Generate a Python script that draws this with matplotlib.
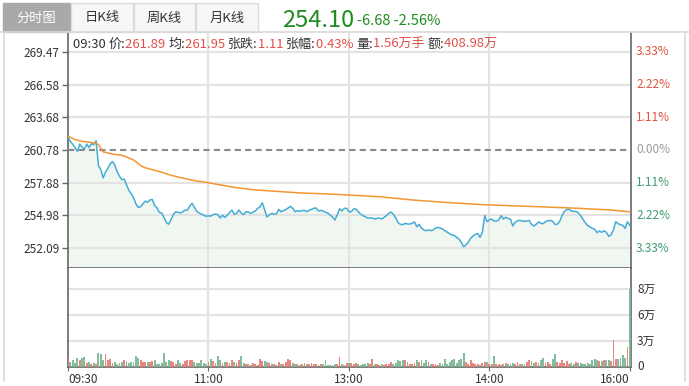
import matplotlib
matplotlib.use('Agg')
import matplotlib.pyplot as plt
from matplotlib.patches import Rectangle
from matplotlib.lines import Line2D

plt.rcParams['font.family'] = ['Noto Sans CJK SC', 'DejaVu Sans']

# ---------------- data ----------------
prev_close = 260.78
last_price = 254.10
change = -6.68
change_pct = -2.56

price_ticks = [252.09, 254.98, 257.88, 260.78, 263.68, 266.58, 269.47]
pct_labels = ['3.33%', '2.22%', '1.11%', '0.00%', '1.11%', '2.22%', '3.33%']
time_ticks = [0, 60, 120, 180, 240]
time_labels = ['09:30', '11:00', '13:00', '14:00', '16:00']
vol_ticks = [0, 2.8, 5.6, 8.4]
vol_labels = ['0', '3万', '6万', '8万']
tabs = ['分时图', '日K线', '周K线', '月K线']
info_time = '09:30'
info_names = ['价:', '均:', '张跌:', '张幅:', '量:', '额:']
info_values = ['261.89', '261.95', '1.11', '0.43%', '1.56万手', '408.98万']

prices = [
    261.95, 261.55, 261.30, 261.00, 260.65, 261.30, 261.05, 260.85, 261.30, 261.00,
    261.35, 261.25, 261.60, 259.40, 259.05, 258.30, 258.80, 259.15, 259.55, 259.75,
    259.45, 258.85, 258.45, 258.15, 258.20, 257.70, 257.20, 256.90, 256.55, 256.00,
    255.70, 255.75, 256.00, 256.25, 256.15, 256.35, 256.40, 255.85, 255.65, 255.25,
    255.20, 254.80, 254.35, 254.20, 254.60, 255.05, 255.30, 255.25, 255.20, 255.30,
    255.45, 255.45, 255.80, 256.05, 255.70, 255.35, 255.20, 255.10, 255.00, 254.90,
    254.95, 254.92, 255.05, 255.10, 255.05, 254.75, 255.00, 254.80, 255.00, 255.25,
    255.45, 255.10, 255.15, 255.45, 255.20, 255.05, 255.30, 255.30, 255.15, 255.28,
    255.37, 255.61, 255.73, 256.10, 255.46, 254.84, 255.02, 255.16, 255.10, 255.10,
    255.52, 255.31, 255.40, 255.49, 255.64, 255.78, 255.61, 255.31, 255.40, 255.34,
    255.40, 255.43, 255.31, 255.43, 255.52, 255.61, 255.64, 255.37, 255.43, 255.37,
    255.25, 255.19, 255.02, 254.84, 254.57, 255.02, 255.58, 255.37, 255.61, 255.61,
    255.31, 255.31, 255.55, 255.55, 255.31, 255.10, 254.96, 254.87, 254.75, 254.75,
    254.75, 254.66, 254.72, 254.75, 254.66, 254.81, 254.96, 255.16, 255.28, 255.07,
    254.78, 254.34, 254.19, 254.16, 254.28, 254.22, 254.22, 254.28, 254.40, 253.98,
    254.19, 253.86, 253.69, 253.63, 253.69, 253.63, 253.69, 253.86, 253.92, 253.86,
    253.77, 253.63, 253.48, 253.36, 253.24, 253.21, 253.04, 252.89, 252.59, 252.21,
    252.36, 252.62, 252.95, 253.15, 253.30, 253.39, 253.04, 253.48, 254.96, 254.43,
    254.60, 254.66, 254.48, 254.48, 254.57, 254.96, 254.66, 254.81, 254.72, 254.66,
    254.04, 254.37, 254.51, 254.54, 254.48, 254.46, 254.48, 254.54, 254.19, 254.04,
    254.19, 254.40, 254.28, 254.25, 254.43, 254.51, 254.54, 254.46, 254.19, 254.19,
    254.43, 254.96, 255.31, 255.49, 255.55, 255.37, 255.34, 255.34, 255.19, 254.96,
    254.63, 254.31, 254.10, 253.95, 253.83, 253.75, 253.45, 253.60, 253.48, 253.63,
    253.48, 253.12, 253.27, 253.69, 254.43, 254.25, 254.16, 254.10, 253.83, 254.43,
    254.10,
]

avg_minutes = [0, 3, 6, 9, 12, 13, 15, 19, 23, 26, 28, 31, 33, 37, 40, 43, 47, 51, 55,
               59, 63, 69, 73, 79, 83, 90, 98, 105, 112, 120, 133, 147, 161, 175, 189,
               204, 218, 232, 240]
avg_values = [262.02, 261.70, 261.55, 261.48, 261.38, 261.25, 260.62, 260.42, 260.31,
              260.07, 259.90, 259.40, 259.20, 258.98, 258.82, 258.60, 258.38, 258.20,
              258.02, 257.92, 257.76, 257.54, 257.41, 257.26, 257.20, 257.10, 256.99,
              256.93, 256.87, 256.79, 256.64, 256.35, 256.14, 255.96, 255.84, 255.73,
              255.61, 255.46, 255.30]

# volume per minute, unit: 万
volumes = [
    1.00, 0.50, 0.70, 0.40, 0.95, 0.75, 0.95, 1.10, 0.40, 0.50,
    0.30, 0.40, 0.30, 1.55, 1.35, 0.70, 1.35, 0.70, 0.85, 0.40,
    0.50, 0.30, 0.40, 0.50, 0.70, 0.60, 0.40, 0.50, 0.50, 1.20,
    0.95, 0.70, 0.55, 0.55, 0.50, 0.50, 0.60, 0.75, 0.35, 0.30,
    0.40, 1.50, 0.50, 0.70, 0.60, 0.50, 0.30, 0.75, 0.40, 0.30,
    0.60, 0.70, 0.70, 0.70, 0.50, 0.40, 0.40, 0.70, 0.40, 0.30,
    0.50, 0.85, 0.60, 0.40, 1.20, 0.75, 0.40, 0.50, 0.50, 0.40,
    0.70, 0.50, 0.40, 0.75, 1.20, 0.40, 0.30, 0.30, 0.20, 0.40,
    0.30, 0.20, 0.85, 0.60, 0.60, 0.50, 0.40, 0.30, 0.30, 0.20,
    0.50, 0.30, 0.30, 0.50, 0.90, 0.70, 0.40, 0.30, 0.30, 0.20,
    0.30, 0.40, 0.30, 0.30, 0.40, 0.30, 0.30, 0.20, 0.30, 0.30,
    0.70, 0.20, 0.20, 0.20, 0.30, 0.30, 1.10, 0.30, 0.20, 0.40,
    0.40, 0.40, 0.30, 0.40, 0.30, 0.20, 0.30, 0.30, 0.40, 0.30,
    0.90, 0.35, 0.30, 0.20, 0.30, 0.20, 0.30, 0.30, 0.50, 0.30,
    0.40, 0.70, 0.60, 0.80, 0.75, 0.50, 0.30, 0.30, 0.40, 0.80,
    0.50, 0.70, 0.40, 0.70, 0.50, 0.30, 0.30, 0.30, 0.20, 0.40,
    0.35, 0.90, 0.30, 0.50, 0.70, 0.90, 0.40, 0.70, 0.90, 1.50,
    0.50, 0.30, 0.80, 0.40, 0.30, 0.30, 0.20, 0.40, 0.50, 0.50,
    0.30, 0.30, 1.15, 0.30, 0.30, 0.20, 0.35, 0.40, 0.30, 0.35,
    0.40, 0.30, 0.50, 0.30, 0.35, 0.30, 0.50, 0.80, 0.60, 0.40,
    0.50, 0.40, 0.70, 1.00, 0.40, 0.50, 0.30, 0.85, 1.35, 0.50,
    0.40, 0.70, 0.40, 0.65, 0.30, 0.40, 0.30, 0.50, 0.40, 0.40,
    0.30, 0.30, 0.40, 0.30, 0.70, 0.90, 0.80, 0.60, 0.65, 0.80,
    0.80, 0.70, 0.65, 2.90, 0.90, 0.90, 1.00, 1.25, 1.00, 2.10,
    8.40,
]

# ---------------- figure ----------------
W, H = 689, 386
fig = plt.figure(figsize=(W / 100, H / 100), dpi=100)
fig.patch.set_facecolor('white')


def fx(px):
    return px / W


def fy(py):
    return 1 - py / H


X0, X1 = 68, 631
Y_TOP, Y_MID, Y_BOT = 33, 268, 367

ax = fig.add_axes([fx(X0), fy(Y_MID), (X1 - X0) / W, (Y_MID - Y_TOP) / H])
axv = fig.add_axes([fx(X0), fy(Y_BOT), (X1 - X0) / W, (Y_BOT - Y_MID) / H])

minutes = list(range(len(prices)))
xmax = 240.5

# outer frame
frame_col = '#d9d9d9'
fig.add_artist(Line2D([fx(4), fx(4)], [fy(32), fy(381)], color=frame_col, lw=1.2))
fig.add_artist(Line2D([fx(685), fx(685)], [fy(32), fy(381)], color=frame_col, lw=1.2))
fig.add_artist(Line2D([fx(0), fx(689)], [fy(32), fy(32)], color=frame_col, lw=1.2))

# tabs
tab_x = [3, 71, 134, 196]
tab_w = [67, 62, 61, 62]
for i, (name, x, w) in enumerate(zip(tabs, tab_x, tab_w)):
    sel = i == 0
    r = Rectangle((fx(x), fy(32)), w / W, 29 / H, transform=fig.transFigure,
                  facecolor='#a9a9a9' if sel else '#f7f7f7',
                  edgecolor='#a9a9a9' if sel else '#dcdcdc', lw=1)
    fig.add_artist(r)
    fig.text(fx(x + w / 2), fy(18), name, ha='center', va='center', fontsize=9.5,
             color='white' if sel else '#333333')

green_big = '#1e8c1e'
fig.text(fx(282), fy(27), f'{last_price:.2f}', fontsize=17, color=green_big,
         va='baseline', ha='left')
fig.text(fx(357), fy(25), f'{change:.2f} {change_pct:.2f}%', fontsize=10.5,
         color=green_big, va='baseline', ha='left')

# ---------------- price panel ----------------
ylo, yhi = 250.32, 271.15
ax.set_xlim(0, xmax)
ax.set_ylim(ylo, yhi)
grid_col = '#e3e3e3'
for p in price_ticks:
    if p != prev_close:
        ax.axhline(p, color=grid_col, lw=1.5, zorder=1)
for t in time_ticks[1:-1]:
    ax.axvline(t, color=grid_col, lw=1.5, zorder=1)
    axv.axvline(t, color=grid_col, lw=1.5, zorder=1)
ax.axhline(prev_close, color='#8a8a8a', lw=1.5, ls=(0, (3, 2)), zorder=3)

ax.fill_between(minutes, prices, ylo, color='#f0f7f0', zorder=0.5, lw=0)
ax.plot(minutes, prices, color='#45acd6', lw=1.1, zorder=4)
ax.plot(avg_minutes, avg_values, color='#f39632', lw=1.1, zorder=5)

ax.set_yticks(price_ticks)
ax.set_yticklabels([f'{p:.2f}' for p in price_ticks])
ax.set_xticks([])
ax.tick_params(axis='y', length=4, width=1, color='#666666', pad=2,
               labelsize=8.5, labelcolor='#333333')
ax.spines['top'].set_visible(False)
for s in ['left', 'right', 'bottom']:
    ax.spines[s].set_color('#666666')
    ax.spines[s].set_linewidth(1.2)

pct_colors = ['#3f9a6e'] * 3 + ['#999999'] + ['#e0533e'] * 3
for p, lab, c in zip(price_ticks, pct_labels, pct_colors):
    ax.text(1 + 5 / (X1 - X0), p, lab, transform=ax.get_yaxis_transform(),
            ha='left', va='center', fontsize=8.5, color=c)

# info line
lab_col = '#333333'
val_col = '#e0504a'
fs_info = 9.4
t = ax.text(5 / (X1 - X0), 1 - 15 / (Y_MID - Y_TOP), info_time + ' ',
            transform=ax.transAxes, fontsize=fs_info, color=lab_col, va='baseline')
for name, val in zip(info_names, info_values):
    t = ax.annotate(name, xy=(1, 0), xycoords=t, fontsize=fs_info, color=lab_col,
                    va='bottom', ha='left', annotation_clip=False)
    t = ax.annotate(val + ' ', xy=(1, 0), xycoords=t, fontsize=fs_info, color=val_col,
                    va='bottom', ha='left', annotation_clip=False)

# ---------------- volume panel ----------------
axv.set_xlim(0, xmax)
axv.set_ylim(0, 10.66)
for v in vol_ticks[1:]:
    axv.axhline(v, color=grid_col, lw=1.5, zorder=1)
bar_cols = []
for i, p in enumerate(prices):
    ref = prev_close if i == 0 else prices[i - 1]
    bar_cols.append('#e57a72' if p >= ref else '#78b592')
axv.bar(minutes, volumes, width=0.8, color=bar_cols, zorder=3, lw=0, alpha=0.9)

axv.set_yticks([])
axv.set_xticks(time_ticks)
axv.set_xticklabels(time_labels)
axv.tick_params(axis='x', length=3, color='#666666', pad=1, labelsize=8.5,
                labelcolor='#333333')
xl = axv.get_xticklabels()
xl[0].set_ha('left')
xl[-1].set_ha('right')
axv.spines['top'].set_visible(False)
for s in ['left', 'right', 'bottom']:
    axv.spines[s].set_color('#666666')
    axv.spines[s].set_linewidth(1.2)
for v, lab in zip(vol_ticks, vol_labels):
    axv.text(1 + 6 / (X1 - X0), v, lab, transform=axv.get_yaxis_transform(),
             ha='left', va='center', fontsize=8.5, color='#333333')

fig.savefig('out.png', dpi=100)
